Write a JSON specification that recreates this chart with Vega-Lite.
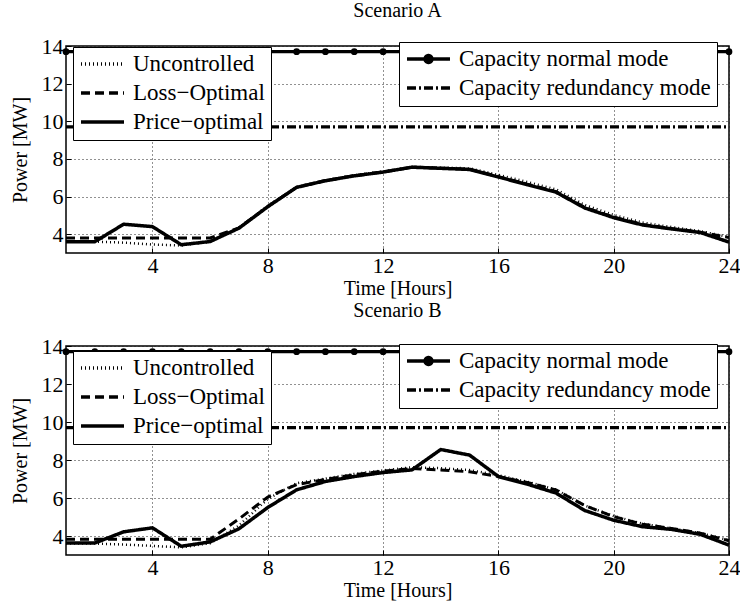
{
  "$schema": "https://vega.github.io/schema/vega-lite/v6.json",
  "background": "white",
  "padding": {"left": 9, "top": 0, "right": 6, "bottom": 2},
  "spacing": 1,
  "config": {
    "font": "Liberation Serif",
    "view": {"stroke": "black", "strokeWidth": 1.5},
    "axis": {
      "domain": false,
      "grid": true,
      "gridColor": "#222",
      "gridDash": [1, 3],
      "gridWidth": 1,
      "ticks": true,
      "tickColor": "black",
      "tickSize": -5,
      "tickWidth": 1,
      "labelFont": "Liberation Serif",
      "labelFontSize": 22,
      "labelColor": "black",
      "labelFlush": false,
      "labelOverlap": false,
      "labelBound": false,
      "titleFont": "Liberation Serif",
      "titleFontSize": 20,
      "titleFontWeight": "normal",
      "titleColor": "black"
    },
    "axisX": {"titlePadding": 2, "labelPadding": 7},
    "axisY": {"titlePadding": 11, "labelPadding": 8},
    "legend": {
      "strokeColor": "black",
      "fillColor": "white",
      "padding": 6,
      "labelFont": "Liberation Serif",
      "labelFontSize": 23,
      "labelColor": "black",
      "labelLimit": 400,
      "labelOffset": 7,
      "symbolType": "stroke",
      "symbolSize": 1850,
      "symbolStrokeWidth": 3.5,
      "symbolStrokeColor": "black",
      "clipHeight": 22,
      "rowPadding": 6,
      "cornerRadius": 0,
      "title": null
    },
    "title": {
      "font": "Liberation Serif",
      "fontSize": 20,
      "fontWeight": "normal",
      "color": "black",
      "anchor": "middle",
      "frame": "group"
    }
  },
  "datasets": {
    "caps": [
      {"cap": "Capacity normal mode", "hour": 1, "value": 13.7},
      {"cap": "Capacity normal mode", "hour": 2, "value": 13.7},
      {"cap": "Capacity normal mode", "hour": 3, "value": 13.7},
      {"cap": "Capacity normal mode", "hour": 4, "value": 13.7},
      {"cap": "Capacity normal mode", "hour": 5, "value": 13.7},
      {"cap": "Capacity normal mode", "hour": 6, "value": 13.7},
      {"cap": "Capacity normal mode", "hour": 7, "value": 13.7},
      {"cap": "Capacity normal mode", "hour": 8, "value": 13.7},
      {"cap": "Capacity normal mode", "hour": 9, "value": 13.7},
      {"cap": "Capacity normal mode", "hour": 10, "value": 13.7},
      {"cap": "Capacity normal mode", "hour": 11, "value": 13.7},
      {"cap": "Capacity normal mode", "hour": 12, "value": 13.7},
      {"cap": "Capacity normal mode", "hour": 13, "value": 13.7},
      {"cap": "Capacity normal mode", "hour": 14, "value": 13.7},
      {"cap": "Capacity normal mode", "hour": 15, "value": 13.7},
      {"cap": "Capacity normal mode", "hour": 16, "value": 13.7},
      {"cap": "Capacity normal mode", "hour": 17, "value": 13.7},
      {"cap": "Capacity normal mode", "hour": 18, "value": 13.7},
      {"cap": "Capacity normal mode", "hour": 19, "value": 13.7},
      {"cap": "Capacity normal mode", "hour": 20, "value": 13.7},
      {"cap": "Capacity normal mode", "hour": 21, "value": 13.7},
      {"cap": "Capacity normal mode", "hour": 22, "value": 13.7},
      {"cap": "Capacity normal mode", "hour": 23, "value": 13.7},
      {"cap": "Capacity normal mode", "hour": 24, "value": 13.7},
      {"cap": "Capacity redundancy mode", "hour": 1, "value": 9.7},
      {"cap": "Capacity redundancy mode", "hour": 24, "value": 9.7}
    ],
    "loads": [
      {"scenario": "A", "series": "Uncontrolled", "hour": 1, "value": 3.6},
      {"scenario": "A", "series": "Uncontrolled", "hour": 2, "value": 3.6},
      {"scenario": "A", "series": "Uncontrolled", "hour": 3, "value": 3.55},
      {"scenario": "A", "series": "Uncontrolled", "hour": 4, "value": 3.45},
      {"scenario": "A", "series": "Uncontrolled", "hour": 5, "value": 3.4},
      {"scenario": "A", "series": "Uncontrolled", "hour": 6, "value": 3.6},
      {"scenario": "A", "series": "Uncontrolled", "hour": 7, "value": 4.35},
      {"scenario": "A", "series": "Uncontrolled", "hour": 8, "value": 5.5},
      {"scenario": "A", "series": "Uncontrolled", "hour": 9, "value": 6.5},
      {"scenario": "A", "series": "Uncontrolled", "hour": 10, "value": 6.86},
      {"scenario": "A", "series": "Uncontrolled", "hour": 11, "value": 7.13},
      {"scenario": "A", "series": "Uncontrolled", "hour": 12, "value": 7.33},
      {"scenario": "A", "series": "Uncontrolled", "hour": 13, "value": 7.58},
      {"scenario": "A", "series": "Uncontrolled", "hour": 14, "value": 7.54},
      {"scenario": "A", "series": "Uncontrolled", "hour": 15, "value": 7.5},
      {"scenario": "A", "series": "Uncontrolled", "hour": 16, "value": 7.15},
      {"scenario": "A", "series": "Uncontrolled", "hour": 17, "value": 6.78},
      {"scenario": "A", "series": "Uncontrolled", "hour": 18, "value": 6.38},
      {"scenario": "A", "series": "Uncontrolled", "hour": 19, "value": 5.55},
      {"scenario": "A", "series": "Uncontrolled", "hour": 20, "value": 5.02},
      {"scenario": "A", "series": "Uncontrolled", "hour": 21, "value": 4.62},
      {"scenario": "A", "series": "Uncontrolled", "hour": 22, "value": 4.38},
      {"scenario": "A", "series": "Uncontrolled", "hour": 23, "value": 4.16},
      {"scenario": "A", "series": "Uncontrolled", "hour": 24, "value": 3.85},
      {"scenario": "A", "series": "Loss−Optimal", "hour": 1, "value": 3.8},
      {"scenario": "A", "series": "Loss−Optimal", "hour": 2, "value": 3.8},
      {"scenario": "A", "series": "Loss−Optimal", "hour": 3, "value": 3.8},
      {"scenario": "A", "series": "Loss−Optimal", "hour": 4, "value": 3.8},
      {"scenario": "A", "series": "Loss−Optimal", "hour": 5, "value": 3.8},
      {"scenario": "A", "series": "Loss−Optimal", "hour": 6, "value": 3.8},
      {"scenario": "A", "series": "Loss−Optimal", "hour": 7, "value": 4.33},
      {"scenario": "A", "series": "Loss−Optimal", "hour": 8, "value": 5.47},
      {"scenario": "A", "series": "Loss−Optimal", "hour": 9, "value": 6.49},
      {"scenario": "A", "series": "Loss−Optimal", "hour": 10, "value": 6.85},
      {"scenario": "A", "series": "Loss−Optimal", "hour": 11, "value": 7.11},
      {"scenario": "A", "series": "Loss−Optimal", "hour": 12, "value": 7.31},
      {"scenario": "A", "series": "Loss−Optimal", "hour": 13, "value": 7.56},
      {"scenario": "A", "series": "Loss−Optimal", "hour": 14, "value": 7.51},
      {"scenario": "A", "series": "Loss−Optimal", "hour": 15, "value": 7.45},
      {"scenario": "A", "series": "Loss−Optimal", "hour": 16, "value": 7.06},
      {"scenario": "A", "series": "Loss−Optimal", "hour": 17, "value": 6.66},
      {"scenario": "A", "series": "Loss−Optimal", "hour": 18, "value": 6.26},
      {"scenario": "A", "series": "Loss−Optimal", "hour": 19, "value": 5.42},
      {"scenario": "A", "series": "Loss−Optimal", "hour": 20, "value": 4.91},
      {"scenario": "A", "series": "Loss−Optimal", "hour": 21, "value": 4.52},
      {"scenario": "A", "series": "Loss−Optimal", "hour": 22, "value": 4.3},
      {"scenario": "A", "series": "Loss−Optimal", "hour": 23, "value": 4.11},
      {"scenario": "A", "series": "Loss−Optimal", "hour": 24, "value": 3.82},
      {"scenario": "A", "series": "Price−optimal", "hour": 1, "value": 3.6},
      {"scenario": "A", "series": "Price−optimal", "hour": 2, "value": 3.6},
      {"scenario": "A", "series": "Price−optimal", "hour": 3, "value": 4.53},
      {"scenario": "A", "series": "Price−optimal", "hour": 4, "value": 4.4},
      {"scenario": "A", "series": "Price−optimal", "hour": 5, "value": 3.44},
      {"scenario": "A", "series": "Price−optimal", "hour": 6, "value": 3.61},
      {"scenario": "A", "series": "Price−optimal", "hour": 7, "value": 4.32},
      {"scenario": "A", "series": "Price−optimal", "hour": 8, "value": 5.46},
      {"scenario": "A", "series": "Price−optimal", "hour": 9, "value": 6.49},
      {"scenario": "A", "series": "Price−optimal", "hour": 10, "value": 6.84},
      {"scenario": "A", "series": "Price−optimal", "hour": 11, "value": 7.1},
      {"scenario": "A", "series": "Price−optimal", "hour": 12, "value": 7.3},
      {"scenario": "A", "series": "Price−optimal", "hour": 13, "value": 7.56},
      {"scenario": "A", "series": "Price−optimal", "hour": 14, "value": 7.5},
      {"scenario": "A", "series": "Price−optimal", "hour": 15, "value": 7.44},
      {"scenario": "A", "series": "Price−optimal", "hour": 16, "value": 7.04},
      {"scenario": "A", "series": "Price−optimal", "hour": 17, "value": 6.63},
      {"scenario": "A", "series": "Price−optimal", "hour": 18, "value": 6.23},
      {"scenario": "A", "series": "Price−optimal", "hour": 19, "value": 5.39},
      {"scenario": "A", "series": "Price−optimal", "hour": 20, "value": 4.88},
      {"scenario": "A", "series": "Price−optimal", "hour": 21, "value": 4.49},
      {"scenario": "A", "series": "Price−optimal", "hour": 22, "value": 4.28},
      {"scenario": "A", "series": "Price−optimal", "hour": 23, "value": 4.09},
      {"scenario": "A", "series": "Price−optimal", "hour": 24, "value": 3.58},
      {"scenario": "B", "series": "Uncontrolled", "hour": 1, "value": 3.6},
      {"scenario": "B", "series": "Uncontrolled", "hour": 2, "value": 3.6},
      {"scenario": "B", "series": "Uncontrolled", "hour": 3, "value": 3.55},
      {"scenario": "B", "series": "Uncontrolled", "hour": 4, "value": 3.48},
      {"scenario": "B", "series": "Uncontrolled", "hour": 5, "value": 3.4},
      {"scenario": "B", "series": "Uncontrolled", "hour": 6, "value": 3.62},
      {"scenario": "B", "series": "Uncontrolled", "hour": 7, "value": 4.55},
      {"scenario": "B", "series": "Uncontrolled", "hour": 8, "value": 5.95},
      {"scenario": "B", "series": "Uncontrolled", "hour": 9, "value": 6.78},
      {"scenario": "B", "series": "Uncontrolled", "hour": 10, "value": 7.02},
      {"scenario": "B", "series": "Uncontrolled", "hour": 11, "value": 7.27},
      {"scenario": "B", "series": "Uncontrolled", "hour": 12, "value": 7.45},
      {"scenario": "B", "series": "Uncontrolled", "hour": 13, "value": 7.62},
      {"scenario": "B", "series": "Uncontrolled", "hour": 14, "value": 7.57},
      {"scenario": "B", "series": "Uncontrolled", "hour": 15, "value": 7.47},
      {"scenario": "B", "series": "Uncontrolled", "hour": 16, "value": 7.2},
      {"scenario": "B", "series": "Uncontrolled", "hour": 17, "value": 6.85},
      {"scenario": "B", "series": "Uncontrolled", "hour": 18, "value": 6.45},
      {"scenario": "B", "series": "Uncontrolled", "hour": 19, "value": 5.6},
      {"scenario": "B", "series": "Uncontrolled", "hour": 20, "value": 5.05},
      {"scenario": "B", "series": "Uncontrolled", "hour": 21, "value": 4.65},
      {"scenario": "B", "series": "Uncontrolled", "hour": 22, "value": 4.4},
      {"scenario": "B", "series": "Uncontrolled", "hour": 23, "value": 4.16},
      {"scenario": "B", "series": "Uncontrolled", "hour": 24, "value": 3.78},
      {"scenario": "B", "series": "Loss−Optimal", "hour": 1, "value": 3.83},
      {"scenario": "B", "series": "Loss−Optimal", "hour": 2, "value": 3.83},
      {"scenario": "B", "series": "Loss−Optimal", "hour": 3, "value": 3.83},
      {"scenario": "B", "series": "Loss−Optimal", "hour": 4, "value": 3.83},
      {"scenario": "B", "series": "Loss−Optimal", "hour": 5, "value": 3.83},
      {"scenario": "B", "series": "Loss−Optimal", "hour": 6, "value": 3.83},
      {"scenario": "B", "series": "Loss−Optimal", "hour": 7, "value": 4.9},
      {"scenario": "B", "series": "Loss−Optimal", "hour": 8, "value": 6.05},
      {"scenario": "B", "series": "Loss−Optimal", "hour": 9, "value": 6.7},
      {"scenario": "B", "series": "Loss−Optimal", "hour": 10, "value": 6.98},
      {"scenario": "B", "series": "Loss−Optimal", "hour": 11, "value": 7.22},
      {"scenario": "B", "series": "Loss−Optimal", "hour": 12, "value": 7.42},
      {"scenario": "B", "series": "Loss−Optimal", "hour": 13, "value": 7.55},
      {"scenario": "B", "series": "Loss−Optimal", "hour": 14, "value": 7.48},
      {"scenario": "B", "series": "Loss−Optimal", "hour": 15, "value": 7.38},
      {"scenario": "B", "series": "Loss−Optimal", "hour": 16, "value": 7.13},
      {"scenario": "B", "series": "Loss−Optimal", "hour": 17, "value": 6.82},
      {"scenario": "B", "series": "Loss−Optimal", "hour": 18, "value": 6.42},
      {"scenario": "B", "series": "Loss−Optimal", "hour": 19, "value": 5.6},
      {"scenario": "B", "series": "Loss−Optimal", "hour": 20, "value": 5.02},
      {"scenario": "B", "series": "Loss−Optimal", "hour": 21, "value": 4.62},
      {"scenario": "B", "series": "Loss−Optimal", "hour": 22, "value": 4.4},
      {"scenario": "B", "series": "Loss−Optimal", "hour": 23, "value": 4.15},
      {"scenario": "B", "series": "Loss−Optimal", "hour": 24, "value": 3.75},
      {"scenario": "B", "series": "Price−optimal", "hour": 1, "value": 3.63},
      {"scenario": "B", "series": "Price−optimal", "hour": 2, "value": 3.63},
      {"scenario": "B", "series": "Price−optimal", "hour": 3, "value": 4.22},
      {"scenario": "B", "series": "Price−optimal", "hour": 4, "value": 4.43},
      {"scenario": "B", "series": "Price−optimal", "hour": 5, "value": 3.46},
      {"scenario": "B", "series": "Price−optimal", "hour": 6, "value": 3.69},
      {"scenario": "B", "series": "Price−optimal", "hour": 7, "value": 4.38},
      {"scenario": "B", "series": "Price−optimal", "hour": 8, "value": 5.5},
      {"scenario": "B", "series": "Price−optimal", "hour": 9, "value": 6.43},
      {"scenario": "B", "series": "Price−optimal", "hour": 10, "value": 6.87},
      {"scenario": "B", "series": "Price−optimal", "hour": 11, "value": 7.13},
      {"scenario": "B", "series": "Price−optimal", "hour": 12, "value": 7.34},
      {"scenario": "B", "series": "Price−optimal", "hour": 13, "value": 7.48},
      {"scenario": "B", "series": "Price−optimal", "hour": 14, "value": 8.55},
      {"scenario": "B", "series": "Price−optimal", "hour": 15, "value": 8.26},
      {"scenario": "B", "series": "Price−optimal", "hour": 16, "value": 7.13},
      {"scenario": "B", "series": "Price−optimal", "hour": 17, "value": 6.73},
      {"scenario": "B", "series": "Price−optimal", "hour": 18, "value": 6.26},
      {"scenario": "B", "series": "Price−optimal", "hour": 19, "value": 5.34},
      {"scenario": "B", "series": "Price−optimal", "hour": 20, "value": 4.83},
      {"scenario": "B", "series": "Price−optimal", "hour": 21, "value": 4.49},
      {"scenario": "B", "series": "Price−optimal", "hour": 22, "value": 4.35},
      {"scenario": "B", "series": "Price−optimal", "hour": 23, "value": 4.09},
      {"scenario": "B", "series": "Price−optimal", "hour": 24, "value": 3.52}
    ]
  },
  "vconcat": [
    {
      "title": {"text": "Scenario A", "offset": 14},
      "width": 663,
      "height": 207,
      "layer": [
        {
          "data": {"name": "caps"},
          "mark": {"type": "line", "color": "black", "strokeWidth": 3.2},
          "encoding": {
            "x": {"field": "hour", "type": "quantitative", "scale": {"domain": [1, 24], "nice": false, "zero": false}, "axis": {"values": [4, 8, 12, 16, 20, 24], "title": "Time [Hours]"}},
            "y": {"field": "value", "type": "quantitative", "scale": {"domain": [3, 14], "nice": false, "zero": false}, "axis": {"values": [4, 6, 8, 10, 12, 14], "title": "Power [MW]"}},
            "strokeDash": {"field": "cap", "type": "nominal", "scale": {"domain": ["Capacity normal mode", "Capacity redundancy mode"], "range": [[1, 0], [9, 3, 2, 3]]}, "legend": {"orient": "none", "legendX": 333, "legendY": -4, "encode": {"symbols": {"update": {"shape": {"signal": "datum.value === 'Capacity normal mode' ? 'M-1,0H1M-0.16,0A0.16,0.16 0 1 1 0.16,0A0.16,0.16 0 1 1 -0.16,0Z' : 'stroke'"}, "fill": {"value": "black"}, "stroke": {"value": "black"}, "strokeWidth": {"value": 3.5}, "opacity": {"value": 1}, "strokeDash": {"signal": "datum.value === 'Capacity normal mode' ? [1, 0] : [9, 3, 2, 3]"}}}}}}
          }
        },
        {
          "data": {"name": "caps"},
          "transform": [{"filter": "datum.cap === 'Capacity normal mode'"}],
          "mark": {"type": "point", "filled": true, "color": "black", "size": 45, "opacity": 1},
          "encoding": {
            "x": {"field": "hour", "type": "quantitative"},
            "y": {"field": "value", "type": "quantitative"}
          }
        },
        {
          "data": {"name": "loads"},
          "transform": [{"filter": "datum.scenario === 'A'"}],
          "mark": {"type": "line", "color": "black"},
          "encoding": {
            "x": {"field": "hour", "type": "quantitative"},
            "y": {"field": "value", "type": "quantitative"},
            "strokeDash": {"field": "series", "type": "nominal", "scale": {"domain": ["Uncontrolled", "Loss−Optimal", "Price−optimal"], "range": [[1, 3], [9, 5], [1, 0]]}, "legend": {"orient": "none", "legendX": 7, "legendY": 1}},
            "strokeWidth": {"field": "series", "type": "nominal", "scale": {"domain": ["Uncontrolled", "Loss−Optimal", "Price−optimal"], "range": [2.5, 3.5, 3.5]}, "legend": null}
          }
        }
      ],
      "resolve": {"scale": {"strokeDash": "independent"}, "legend": {"strokeDash": "independent"}}
    },
    {
      "title": {"text": "Scenario B", "offset": 14},
      "width": 663,
      "height": 209,
      "layer": [
        {
          "data": {"name": "caps"},
          "mark": {"type": "line", "color": "black", "strokeWidth": 3.2},
          "encoding": {
            "x": {"field": "hour", "type": "quantitative", "scale": {"domain": [1, 24], "nice": false, "zero": false}, "axis": {"values": [4, 8, 12, 16, 20, 24], "title": "Time [Hours]"}},
            "y": {"field": "value", "type": "quantitative", "scale": {"domain": [3, 14], "nice": false, "zero": false}, "axis": {"values": [4, 6, 8, 10, 12, 14], "title": "Power [MW]"}},
            "strokeDash": {"field": "cap", "type": "nominal", "scale": {"domain": ["Capacity normal mode", "Capacity redundancy mode"], "range": [[1, 0], [9, 3, 2, 3]]}, "legend": {"orient": "none", "legendX": 333, "legendY": -2, "encode": {"symbols": {"update": {"shape": {"signal": "datum.value === 'Capacity normal mode' ? 'M-1,0H1M-0.16,0A0.16,0.16 0 1 1 0.16,0A0.16,0.16 0 1 1 -0.16,0Z' : 'stroke'"}, "fill": {"value": "black"}, "stroke": {"value": "black"}, "strokeWidth": {"value": 3.5}, "opacity": {"value": 1}, "strokeDash": {"signal": "datum.value === 'Capacity normal mode' ? [1, 0] : [9, 3, 2, 3]"}}}}}}
          }
        },
        {
          "data": {"name": "caps"},
          "transform": [{"filter": "datum.cap === 'Capacity normal mode'"}],
          "mark": {"type": "point", "filled": true, "color": "black", "size": 45, "opacity": 1},
          "encoding": {
            "x": {"field": "hour", "type": "quantitative"},
            "y": {"field": "value", "type": "quantitative"}
          }
        },
        {
          "data": {"name": "loads"},
          "transform": [{"filter": "datum.scenario === 'B'"}],
          "mark": {"type": "line", "color": "black"},
          "encoding": {
            "x": {"field": "hour", "type": "quantitative"},
            "y": {"field": "value", "type": "quantitative"},
            "strokeDash": {"field": "series", "type": "nominal", "scale": {"domain": ["Uncontrolled", "Loss−Optimal", "Price−optimal"], "range": [[1, 3], [9, 5], [1, 0]]}, "legend": {"orient": "none", "legendX": 7, "legendY": 5}},
            "strokeWidth": {"field": "series", "type": "nominal", "scale": {"domain": ["Uncontrolled", "Loss−Optimal", "Price−optimal"], "range": [2.5, 3.5, 3.5]}, "legend": null}
          }
        }
      ],
      "resolve": {"scale": {"strokeDash": "independent"}, "legend": {"strokeDash": "independent"}}
    }
  ],
  "resolve": {"scale": {"strokeDash": "independent", "strokeWidth": "independent"}, "legend": {"strokeDash": "independent"}}
}
